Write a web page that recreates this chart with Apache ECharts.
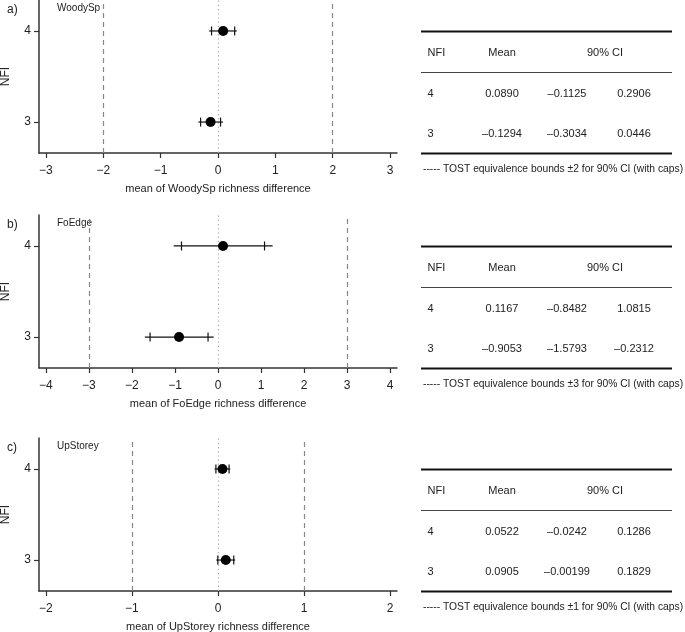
<!DOCTYPE html>
<html><head><meta charset="utf-8">
<script src="https://cdn.jsdelivr.net/npm/echarts@6/dist/echarts.min.js"></script>
<style>html,body{margin:0;padding:0;background:#fff}#c{width:685px;height:632px}</style>
</head><body><div id="c"></div>
<script>
// ---------- data ----------
const nfi = [4, 3];
const panelLabels = ['a)', 'b)', 'c)'];
const variables = ['WoodySp', 'FoEdge', 'UpStorey'];
const bounds = [2, 3, 1];
const xTicksWoody = [-3, -2, -1, 0, 1, 2, 3];
const xTicksFoEdge = [-4, -3, -2, -1, 0, 1, 2, 3, 4];
const xTicksUp = [-2, -1, 0, 1, 2];
const yTicks = [3, 4];

const meanWoody = [0.0890, -0.1294];
const ci90LowWoody = [-0.1125, -0.3034];
const ci90HighWoody = [0.2906, 0.0446];
const ci95LowWoody = [-0.155, -0.342];   // (line ends)
const ci95HighWoody = [0.327, 0.088];

const meanFoEdge = [0.1167, -0.9053];
const ci90LowFoEdge = [-0.8482, -1.5793];
const ci90HighFoEdge = [1.0815, -0.2312];
const ci95LowFoEdge = [-1.03, -1.70];
const ci95HighFoEdge = [1.27, -0.10];

const meanUp = [0.0522, 0.0905];
const ci90LowUp = [-0.0242, -0.00199];
const ci90HighUp = [0.1286, 0.1829];
const ci95LowUp = [-0.040, -0.020];
const ci95HighUp = [0.143, 0.200];

// ---------- layout ----------
const FONT = 'Liberation Sans, Arial, sans-serif';
const panels = [
  { top: 0,   lim: 3.12, ticks: xTicksWoody, mean: meanWoody, lo90: ci90LowWoody, hi90: ci90HighWoody, lo95: ci95LowWoody, hi95: ci95HighWoody },
  { top: 215, lim: 4.16, ticks: xTicksFoEdge, mean: meanFoEdge, lo90: ci90LowFoEdge, hi90: ci90HighFoEdge, lo95: ci95LowFoEdge, hi95: ci95HighFoEdge },
  { top: 438, lim: 2.08, ticks: xTicksUp, mean: meanUp, lo90: ci90LowUp, hi90: ci90HighUp, lo95: ci95LowUp, hi95: ci95HighUp }
];

function fmt(v) {
  const s = Math.abs(v) < 0.01 ? v.toPrecision(3) : v.toFixed(4);
  return s.replace('-', '\u2013');
}
function minus(v) { return String(v).replace('-', '\u2212'); }

const grid = [], xAxis = [], yAxis = [], series = [], graphic = [];
const axisColor = '#333';

panels.forEach((p, i) => {
  grid.push({ left: 39, top: p.top, width: 358, height: 153, outerBoundsMode: 'none', containLabel: false });
  xAxis.push({
    gridIndex: i, type: 'value', min: -p.lim, max: p.lim,
    axisLine: { show: true, onZero: false, lineStyle: { color: axisColor, width: 1.5 } },
    axisTick: { show: true, customValues: p.ticks, length: 5, lineStyle: { color: axisColor, width: 1.2 } },
    axisLabel: { customValues: p.ticks, formatter: minus, margin: 12, fontSize: 12, color: '#222', fontFamily: FONT },
    splitLine: { show: false },
    name: 'mean of ' + variables[i] + ' richness difference',
    nameLocation: 'middle', nameGap: 30,
    nameTextStyle: { fontSize: 11, color: '#222', fontFamily: FONT }
  });
  yAxis.push({
    gridIndex: i, type: 'value', min: 2.66, max: 4.34,
    axisLine: { show: true, onZero: false, lineStyle: { color: axisColor, width: 1.5 } },
    axisTick: { show: true, customValues: yTicks, length: 5, lineStyle: { color: axisColor, width: 1.2 } },
    axisLabel: { customValues: yTicks, margin: 8, fontSize: 12, color: '#222', fontFamily: FONT },
    splitLine: { show: false },
    name: 'NFI', nameLocation: 'middle', nameGap: 27, nameRotate: 90, nameMoveOverlap: false,
    nameTextStyle: { fontSize: 12, color: '#222', fontFamily: FONT }
  });

  const barData = nfi.map((n, k) => [p.lo95[k], p.hi95[k], p.lo90[k], p.hi90[k], n]);
  series.push({
    type: 'custom', xAxisIndex: i, yAxisIndex: i, silent: true, z: 3,
    data: barData,
    renderItem: function (params, api) {
      const y = api.value(4);
      const a = api.coord([api.value(0), y]);
      const b = api.coord([api.value(1), y]);
      const c1 = api.coord([api.value(2), y]);
      const c2 = api.coord([api.value(3), y]);
      const st = { stroke: '#111', lineWidth: 1.2 };
      return { type: 'group', children: [
        { type: 'line', shape: { x1: a[0], y1: a[1], x2: b[0], y2: b[1] }, style: st },
        { type: 'line', shape: { x1: c1[0], y1: c1[1] - 4.5, x2: c1[0], y2: c1[1] + 4.5 }, style: st },
        { type: 'line', shape: { x1: c2[0], y1: c2[1] - 4.5, x2: c2[0], y2: c2[1] + 4.5 }, style: st }
      ] };
    }
  });
  series.push({
    type: 'scatter', xAxisIndex: i, yAxisIndex: i, z: 4,
    symbol: 'circle', symbolSize: 10, itemStyle: { color: '#000', opacity: 1 },
    data: nfi.map((n, k) => [p.mean[k], n]),
    markLine: {
      silent: true, symbol: 'none', label: { show: false }, z: 1,
      data: [
        { xAxis: -bounds[i], lineStyle: { color: '#888', width: 1.2, type: [5, 4] } },
        { xAxis: bounds[i], lineStyle: { color: '#888', width: 1.2, type: [5, 4] } },
        { xAxis: 0, lineStyle: { color: '#aaa', width: 1.2, type: [1.2, 3] } }
      ]
    }
  });

  // panel letter and variable name
  graphic.push({ type: 'text', left: 7, top: p.top + 4, style: { text: panelLabels[i], fontSize: 12, fill: '#222', fontFamily: FONT } });
  graphic.push({ type: 'text', left: 57, top: p.top + 3.5, style: { text: variables[i], fontSize: 10, fill: '#222', fontFamily: FONT } });

  // table
  const t = p.top;
  const L = 421, R = 672;
  graphic.push({ type: 'line', shape: { x1: L, y1: t + 31.5, x2: R, y2: t + 31.5 }, style: { stroke: '#111', lineWidth: 1.8 } });
  graphic.push({ type: 'line', shape: { x1: L, y1: t + 72.5, x2: R, y2: t + 72.5 }, style: { stroke: '#444', lineWidth: 1 } });
  graphic.push({ type: 'line', shape: { x1: L, y1: t + 153.5, x2: R, y2: t + 153.5 }, style: { stroke: '#111', lineWidth: 1.8 } });
  const ts = (txt, x, y, align, size) => ({ type: 'text', x: x, y: y, style: { text: txt, fontSize: size || 11, fill: '#222', fontFamily: FONT, align: align, verticalAlign: 'middle' } });
  graphic.push(ts('NFI', 427.5, t + 53, 'left'));
  graphic.push(ts('Mean', 502, t + 53, 'center'));
  graphic.push(ts('90% CI', 605, t + 53, 'center'));
  nfi.forEach((n, k) => {
    const y = t + 93.5 + k * 40;
    graphic.push(ts(String(n), 427.5, y, 'left'));
    graphic.push(ts(fmt(p.mean[k]), 502, y, 'center'));
    graphic.push(ts(fmt(p.lo90[k]), 567, y, 'center'));
    graphic.push(ts(fmt(p.hi90[k]), 634, y, 'center'));
  });
  graphic.push(ts('----- TOST equivalence bounds \u00b1' + bounds[i] + ' for 90% CI (with caps)', 423, t + 169, 'left', 10.3));
});

const chart = echarts.init(document.getElementById('c'), null, { renderer: 'canvas' });
chart.setOption({
  animation: false,
  backgroundColor: '#fff',
  grid, xAxis, yAxis, series, graphic
});
</script>
</body></html>
